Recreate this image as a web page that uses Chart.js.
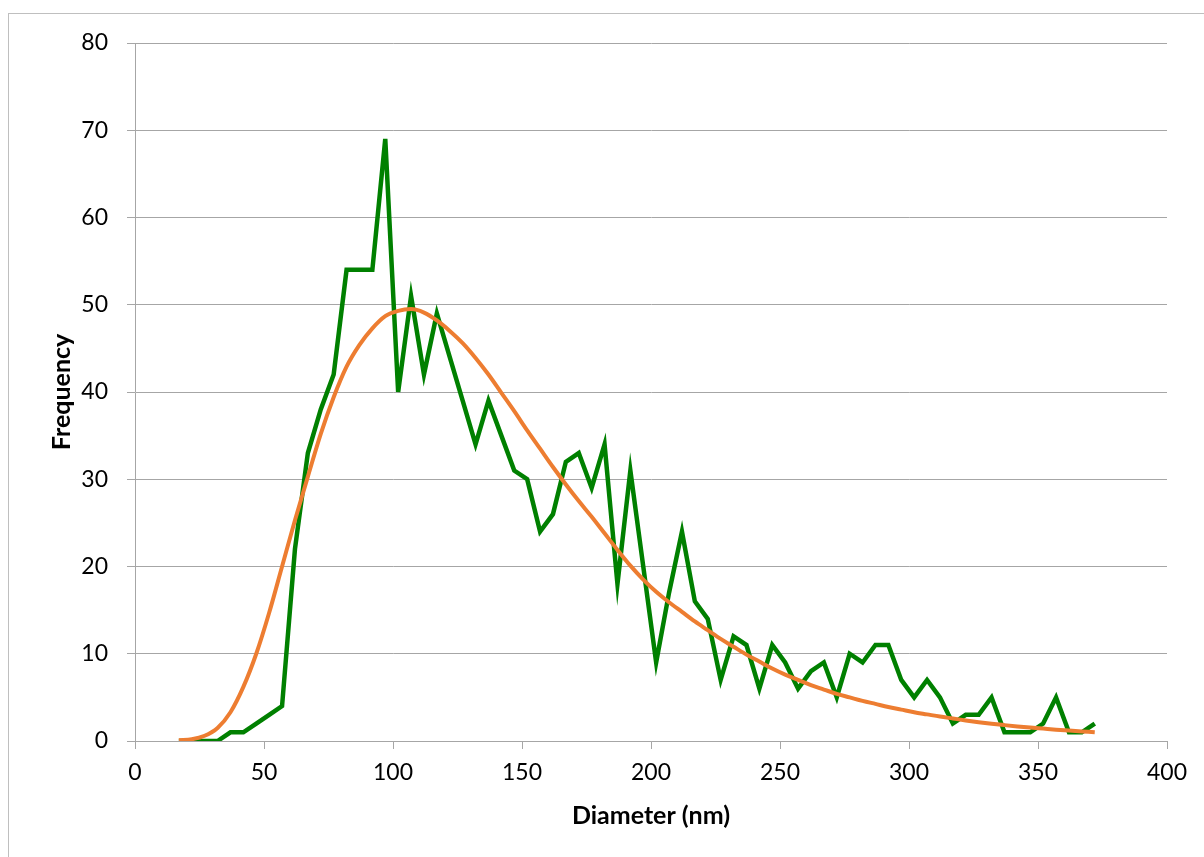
<!DOCTYPE html>
<html>
<head>
<meta charset="utf-8">
<script src="https://cdn.jsdelivr.net/npm/chart.js@4/dist/chart.umd.min.js"></script>
<style>
  html, body { margin: 0; padding: 0; background: #fff; overflow: hidden; }
  #wrap { position: relative; width: 1204px; height: 857px; }
  #frame { position: absolute; left: 8px; top: 13px; width: 1300px; height: 900px; border: 1px solid #bfbfbf; }
  canvas { position: absolute; left: 0; top: 0; }
</style>
</head>
<body>
<div id="wrap">
  <div id="frame"></div>
  <canvas id="sizeChart" width="1204" height="857"></canvas>
</div>
<script>
// diameter bins (nm)
var Diameters = [17, 22, 27, 32, 37, 42, 47, 52, 57, 62, 67, 72, 77, 82, 87, 92, 97, 102,
    107, 112, 117, 122, 127, 132, 137, 142, 147, 152, 157, 162, 167, 172, 177, 182, 187, 192,
    197, 202, 207, 212, 217, 222, 227, 232, 237, 242, 247, 252, 257, 262, 267, 272, 277, 282,
    287, 292, 297, 302, 307, 312, 317, 322, 327, 332, 337, 342, 347, 352, 357, 362, 367, 372];

// measured counts
var Counts = [0, 0, 0, 0, 1, 1, 2, 3, 4, 22, 33, 38, 42, 54, 54, 54, 69, 40,
    51, 42, 49, 44, 39, 34, 39, 35, 31, 30, 24, 26, 32, 33, 29, 34, 18, 31,
    20, 9, 17, 24, 16, 14, 7, 12, 11, 6, 11, 9, 6, 8, 9, 5, 10, 9,
    11, 11, 7, 5, 7, 5, 2, 3, 3, 5, 1, 1, 1, 2, 5, 1, 1, 2];

// fitted curve
var Fit = [0.1, 0.2, 0.6, 1.5, 3.3, 6.2, 10.0, 14.7, 20.0, 25.3, 30.3, 35.2, 39.4, 42.9, 45.4, 47.3, 48.7, 49.3,
    49.5, 49.1, 48.2, 47.0, 45.6, 43.9, 42.0, 39.9, 37.8, 35.6, 33.5, 31.4, 29.4, 27.5, 25.7, 23.8, 21.9, 20.1,
    18.5, 17.1, 15.9, 14.8, 13.7, 12.7, 11.7, 10.8, 9.9, 9.1, 8.3, 7.6, 7.0, 6.4, 5.9, 5.4, 5.0, 4.6,
    4.25, 3.9, 3.6, 3.3, 3.05, 2.8, 2.58, 2.36, 2.16, 1.98, 1.82, 1.67, 1.54, 1.42, 1.3, 1.2, 1.1, 1.0];

var XTicks = [0, 50, 100, 150, 200, 250, 300, 350, 400];
var YTicks = [0, 10, 20, 30, 40, 50, 60, 70, 80];

function toPoints(ys) {
    return Diameters.map(function (d, i) { return { x: d, y: ys[i] }; });
}

var GridGrey = '#a6a6a6';
var TickFont = { family: 'Lato', size: 23 };
var TitleFont = { family: 'Lato', size: 25, weight: 'bold' };

var ctx = document.getElementById('sizeChart').getContext('2d');
var sizeChart = new Chart(ctx, {
    type: 'line',
    data: {
        datasets: [{
            label: 'Frequency',
            data: toPoints(Counts),
            borderColor: '#008000',
            borderWidth: 4.5,
            pointRadius: 0,
            tension: 0,
            order: 2
        }, {
            label: 'Fit',
            data: toPoints(Fit),
            borderColor: '#ED7D31',
            borderWidth: 4,
            pointRadius: 0,
            cubicInterpolationMode: 'monotone',
            order: 1
        }]
    },
    options: {
        responsive: false,
        animation: false,
        layout: { padding: { top: 43, right: 37, left: 0, bottom: 0 } },
        plugins: {
            legend: { display: false },
            tooltip: { enabled: false }
        },
        scales: {
            x: {
                type: 'linear',
                min: 0,
                max: 400,
                afterBuildTicks: function (scale) {
                    scale.ticks = XTicks.map(function (v) { return { value: v }; });
                },
                afterFit: function (scale) { scale.height = 116; },
                grid: { drawOnChartArea: false, drawTicks: true, tickLength: 8, color: GridGrey, lineWidth: 1 },
                border: { color: GridGrey, width: 1 },
                ticks: { color: '#000', font: TickFont, padding: 10, maxRotation: 0 },
                title: { display: true, text: 'Diameter (nm)', color: '#000', font: TitleFont, padding: { top: 0, bottom: 26 } }
            },
            y: {
                min: 0,
                max: 80,
                afterBuildTicks: function (scale) {
                    scale.ticks = YTicks.map(function (v) { return { value: v }; });
                },
                afterFit: function (scale) { scale.width = 135; },
                grid: { drawTicks: true, tickLength: 8, color: GridGrey, lineWidth: 1 },
                border: { color: GridGrey, width: 1 },
                ticks: { color: '#000', font: TickFont, padding: 19 },
                title: { display: true, text: 'Frequency', color: '#000', font: TitleFont, padding: { top: 47, bottom: 0 } }
            }
        }
    }
});
</script>
</body>
</html>
